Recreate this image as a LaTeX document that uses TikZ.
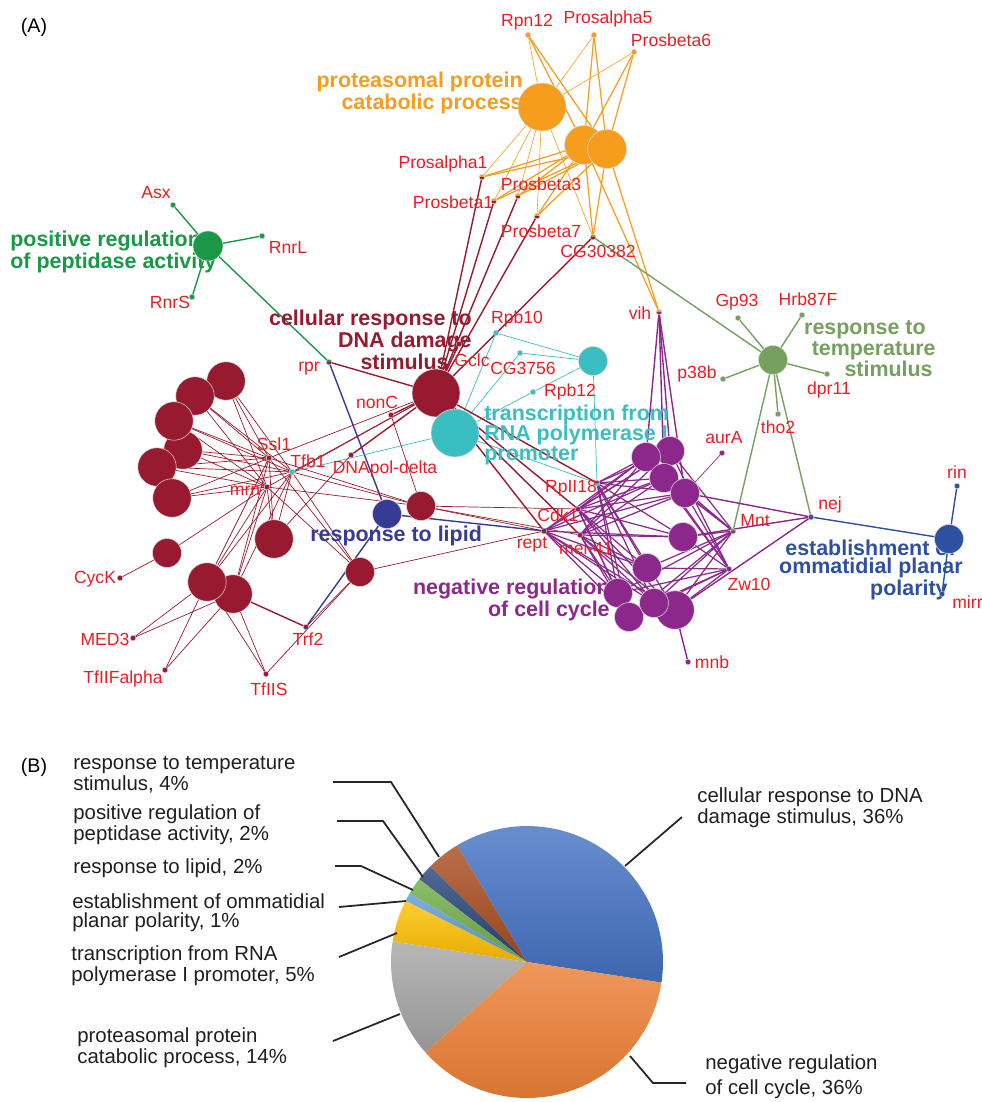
\documentclass[tikz,border=0pt]{standalone}
\usepackage{fontspec}
\setmainfont{Liberation Sans}
\usetikzlibrary{backgrounds}
\definecolor{dnared}{RGB}{152,26,48}
\definecolor{orng}{RGB}{246,157,30}
\definecolor{pgreen}{RGB}{26,152,72}
\definecolor{tgreen}{RGB}{118,160,94}
\definecolor{cyanc}{RGB}{58,190,193}
\definecolor{purp}{RGB}{140,40,140}
\definecolor{lipblue}{RGB}{52,60,150}
\definecolor{obl}{RGB}{45,80,160}
\definecolor{genered}{RGB}{237,28,36}
\definecolor{pieblue}{RGB}{68,114,196}
\definecolor{pieorange}{RGB}{237,125,49}
\definecolor{piegray}{RGB}{165,165,165}
\definecolor{pieyellow}{RGB}{255,192,0}
\definecolor{pielblue}{RGB}{91,155,213}
\definecolor{piegreen}{RGB}{112,173,71}
\definecolor{piedblue}{RGB}{38,68,120}
\definecolor{piebrown}{RGB}{168,75,30}
\tikzset{
  term/.style={circle,draw=white!70!gray,line width=0.3pt,inner sep=0pt},
  tbig/.style={term,minimum size=9.6mm},
  tmid/.style={term,minimum size=7.7mm},
  tsml/.style={term,minimum size=5.8mm},
  gene/.style={circle,inner sep=0pt,minimum size=1.1mm,draw=white!65!gray,line width=0.2pt,fill=#1},
  gene2/.style 2 args={gene=#1,path picture={\fill[#2] (path picture bounding box.west) rectangle (path picture bounding box.south east);}},
  glab/.style={text=genered,font=\fontsize{10}{11}\selectfont,inner sep=0pt},
  tlab/.style={inner sep=0pt,font=\fontsize{12.2}{#1}\selectfont\bfseries},
  tlab/.default=10.4,
  plab/.style={text=black!88,inner sep=0pt,anchor=west,align=left,font=\fontsize{11.6}{#1}\selectfont},
  plab/.default=10.8,
  thk/.style={line width=0.8pt},
  lead/.style={draw=black!85,line width=1pt}
}

\begin{document}
\begin{tikzpicture}[x=0.02cm,y=-0.02cm]
\useasboundingbox (0,0) rectangle (981,1102);
\node[font=\fontsize{11.2}{12}\selectfont,inner sep=0pt] (pa) at (34,27) {(A)};
\node[font=\fontsize{11.2}{12}\selectfont,inner sep=0pt] (pb) at (34,767) {(B)};

% term labels, under the circles
\node[tlab,text=orng,align=right,anchor=east] (lprot) at (523,93) {proteasomal protein\\catabolic process};
\node[tlab=11,text=pgreen,align=left,anchor=west] (lpept) at (10,252) {positive regulation\\of peptidase activity};
\node[tlab,text=dnared,align=right,anchor=east] (ldna) at (472,340) {cellular response to\\DNA damage\hspace*{3.8mm}\\stimulus\hspace*{4.6mm}};
\node[tlab=11.6,text=cyanc,align=left,anchor=west] (ltrans) at (484,435) {transcription from\\RNA polymerase I\\promoter};
\node[tlab=9.1,text=tgreen,align=right,anchor=east] (ltemp) at (936,349) {response to\hspace*{2mm}\\temperature\\stimulus\hspace*{0.6mm}};
\node[tlab,text=lipblue,anchor=west] (llip) at (310,536) {response to lipid};
\node[tlab=11,text=purp,align=right,anchor=east] (lneg) at (610,600) {negative regulation\\of cell cycle};
\node[tlab=10.6,text=obl,align=right,anchor=east] (lomma) at (963,570) {establishment of\hspace*{1.4mm}\\ommatidial planar\\polarity\hspace*{3mm}};

% term circles
\node[tbig,fill=orng] (prot1) at (542,107) {};
\node[term,minimum size=7.8mm,fill=orng] (prot2) at (584,145) {};
\node[term,minimum size=7.8mm,fill=orng] (prot3) at (607,149) {};
\node[term,minimum size=6mm,fill=pgreen] (pept) at (208,246) {};
\node[tbig,fill=dnared] (dna) at (436,393) {};
\node[tbig,fill=cyanc] (trans) at (455,433) {};
\node[tsml,fill=cyanc] (trans2) at (593,361) {};
\node[tmid,fill=dnared] (dl1) at (226,381) {};
\node[tmid,fill=dnared] (dl2) at (195,396) {};
\node[tmid,fill=dnared] (dl4) at (183,450) {};
\node[tmid,fill=dnared] (dl3) at (174,421) {};
\node[tmid,fill=dnared] (dl5) at (157,467) {};
\node[tmid,fill=dnared] (dl6) at (172,498) {};
\node[tmid,fill=dnared] (dl7) at (274,539) {};
\node[tsml,fill=dnared] (dl8) at (167,553) {};
\node[tmid,fill=dnared] (dl10) at (233,594) {};
\node[tmid,fill=dnared] (dl9) at (207,582) {};
\node[tsml,fill=dnared] (dl11) at (421,506) {};
\node[tsml,fill=dnared] (dl12) at (360,572) {};
\node[tsml,fill=lipblue] (lipid) at (387,514) {};
\node[tsml,fill=tgreen] (temp) at (773,360) {};
\node[tsml,fill=obl] (omma) at (949,539) {};
\node[tsml,fill=purp] (pc2) at (670,451) {};
\node[tsml,fill=purp] (pc1) at (646,457) {};
\node[tsml,fill=purp] (pc3) at (664,478) {};
\node[tsml,fill=purp] (pc4) at (685,493) {};
\node[tsml,fill=purp] (pc5) at (683,537) {};
\node[tsml,fill=purp] (pc6) at (647,568) {};
\node[tmid,fill=purp] (pc9) at (675,610) {};
\node[tsml,fill=purp] (pc7) at (618,593) {};
\node[tsml,fill=purp] (pc10) at (629,617) {};
\node[tsml,fill=purp] (pc8) at (654,603) {};

% genes
\node[gene=orng] (rpn12) at (528,35) {};
\node[gene=orng] (pa5) at (594,35) {};
\node[gene=orng] (pb6) at (634,52) {};
\node[gene2={orng}{dnared}] (pa1) at (482,177) {};
\node[gene2={orng}{dnared}] (pb1) at (494,201) {};
\node[gene2={orng}{dnared}] (pb3) at (518,196) {};
\node[gene2={orng}{dnared}] (pb7) at (537,216) {};
\node[gene2={tgreen}{dnared}] (cg30382) at (593,237) {};
\node[gene2={orng}{purp}] (vih) at (659,312) {};
\node[gene=pgreen] (asx) at (173,205) {};
\node[gene=pgreen] (rnrl) at (262,236) {};
\node[gene=pgreen] (rnrs) at (192,297) {};
\node[gene2={pgreen}{dnared}] (rpr) at (329,362) {};
\node[gene=tgreen] (gp93) at (738,318) {};
\node[gene=tgreen] (hrb87f) at (802,315) {};
\node[gene=tgreen] (p38b) at (723,379) {};
\node[gene=tgreen] (dpr11) at (827,374) {};
\node[gene=tgreen] (tho2) at (778,414) {};
\node[gene2={tgreen}{purp}] (mnt) at (733,531) {};
\node[gene2={purp}{obl}] (nej) at (811,517) {};
\node[gene=obl] (rin) at (957,486) {};
\node[gene=obl] (mirr) at (942,594) {};
\node[gene=cyanc] (rpb10) at (496,333) {};
\node[gene=cyanc] (cg3756) at (520,353) {};
\node[gene=cyanc] (rpb12) at (533,392) {};
\node[gene=cyanc] (tfb1) at (292,472) {};
\node[gene2={purp}{cyanc}] (rpii18) at (597,483) {};
\node[gene2={purp}{dnared}] (cdk1) at (578,509) {};
\node[gene2={lipblue}{dnared}] (rept) at (544,531) {};
\node[gene2={purp}{dnared}] (mei41) at (580,535) {};
\node[gene=purp] (aura) at (722,453) {};
\node[gene=purp] (zw10) at (729,569) {};
\node[gene=purp] (mnb) at (688,662) {};
\node[gene=dnared] (nonc) at (391,415) {};
\node[gene=dnared] (ssl1) at (269,458) {};
\node[gene=dnared] (mrn) at (267,487) {};
\node[gene=dnared] (dnapol) at (351,455) {};
\node[gene=dnared] (gclc) at (459,344) {};
\node[gene=dnared] (cyck) at (120,578) {};
\node[gene=dnared] (med3) at (133,638) {};
\node[gene=dnared] (tf2f) at (165,670) {};
\node[gene=dnared] (tf2s) at (266,674) {};
\node[gene2={dnared}{lipblue}] (trf2) at (306,627) {};

% gene labels
\node[glab] (lrpn12) at (527,22) {Rpn12};
\node[glab] (lpa5) at (608,19) {Prosalpha5};
\node[glab] (lpb6) at (671,40) {Prosbeta6};
\node[glab] (lpa1) at (443,164) {Prosalpha1};
\node[glab] (lpb3) at (541,184) {Prosbeta3};
\node[glab] (lpb1) at (453,202) {Prosbeta1};
\node[glab] (lpb7) at (541,231) {Prosbeta7};
\node[glab] (lcg30382) at (598,251) {CG30382};
\node[glab] (lvih) at (640,313) {vih};
\node[glab] (lasx) at (156,193) {Asx};
\node[glab] (lrnrl) at (288,247) {RnrL};
\node[glab] (lrnrs) at (170,302) {RnrS};
\node[glab] (lrpr) at (309,369) {rpr};
\node[glab] (lgp93) at (737,302) {Gp93};
\node[glab] (lhrb87f) at (808,299) {Hrb87F};
\node[glab] (lp38b) at (697,374) {p38b};
\node[glab] (ldpr11) at (829,390) {dpr11};
\node[glab] (ltho2) at (778,427) {tho2};
\node[glab] (laura) at (724,438) {aurA};
\node[glab] (lmnt) at (755,521) {Mnt};
\node[glab] (lzw10) at (749,584) {Zw10};
\node[glab] (lmnb) at (712,662) {mnb};
\node[glab] (lnej) at (830,505) {nej};
\node[glab] (lrin) at (957,472) {rin};
\node[glab,anchor=west] (lmirr) at (952,602) {mirr};
\node[glab] (lrpb10) at (517,319) {Rpb10};
\node[glab] (lcg3756) at (523,368) {CG3756};
\node[glab] (lrpb12) at (570,392) {Rpb12};
\node[glab] (lrpii18) at (571,488) {RpII18};
\node[glab] (lcdk1) at (558,515) {Cdk1};
\node[glab] (lrept) at (532,545) {rept};
\node[glab] (lmei41) at (586,548) {mei-41};
\node[glab] (lnonc) at (377,402) {nonC};
\node[glab] (lssl1) at (274,444) {Ssl1};
\node[glab] (ltfb1) at (308,461) {Tfb1};
\node[glab] (lmrn) at (245,491) {mrn};
\node[glab] (ldnapol) at (385,469) {DNApol-delta};
\node[glab] (lgclc) at (472,360) {Gclc};
\node[glab] (lcyck) at (95,579) {CycK};
\node[glab] (lmed3) at (105,639) {MED3};
\node[glab] (ltf2f) at (123,679) {TfIIFalpha};
\node[glab] (ltf2s) at (269,689) {TfIIS};
\node[glab] (ltrf2) at (308,639) {Trf2};

% links
\begin{scope}[on background layer,line width=0.45pt]
  \foreach \gn in {rpn12,pa5,pb6,pa1,pb1,pb3,pb7,cg30382}
    \draw[orng,line width=0.35pt] (prot1) -- (\gn);
  \foreach \tm in {prot2,prot3}
    \foreach \gn in {rpn12,pa5,pb6,pa1,pb1,pb3,pb7,cg30382,vih}
      \draw[orng,line width=0.7pt] (\tm) -- (\gn);
  \foreach \gn in {asx,rnrl,rnrs,rpr}
    \draw[pgreen,thk] (pept) -- (\gn);
  \foreach \gn in {gp93,hrb87f,p38b,dpr11,tho2,cg30382,mnt,nej}
    \draw[tgreen,thk] (temp) -- (\gn);
  \foreach \gn in {rin,mirr,nej}
    \draw[obl,thk] (omma) -- (\gn);
  \foreach \gn in {rpr,trf2,rept}
    \draw[lipblue,thk] (lipid) -- (\gn);
  \foreach \gn in {tfb1,rpb10,cg3756,rpb12,rpii18}
    \draw[cyanc] (trans) -- (\gn);
  \foreach \gn in {rpb10,cg3756,rpb12,rpii18}
    \draw[cyanc] (trans2) -- (\gn);
  % dna damage
  \foreach \gn in {pa1,pb1,pb3,pb7,cg30382,gclc,rpr,nonc,dnapol,rpii18,cdk1,rept,mei41}
    \draw[dnared,thk] (dna) -- (\gn);
  \foreach \tm in {dl1,dl2,dl3,dl4,dl5,dl6,dl7,dl9,dl10,dl11,dl12,dna}
    \foreach \gn in {ssl1,tfb1,mrn}
      \draw[dnared] (\tm) -- (\gn);
  \draw[dnared] (dl7) -- (dnapol);
  \draw[dnared] (dl8) -- (cyck);
  \draw[dnared] (dl8) -- (mrn);
  \foreach \tm in {dl9,dl10}
    \foreach \gn in {med3,tf2f,tf2s}
      \draw[dnared] (\tm) -- (\gn);
  \draw[dnared,thk] (dl10) -- (trf2);
  \foreach \gn in {nonc,cdk1,rept,mei41}
    \draw[dnared] (dl11) -- (\gn);
  \foreach \gn in {tf2s,trf2,rept}
    \draw[dnared] (dl12) -- (\gn);
  % cell cycle
  \foreach \tm in {pc1,pc2,pc3,pc4,pc5,pc6,pc7,pc8,pc9,pc10}
    \foreach \gn in {rpii18,cdk1,rept,mei41,mnt,zw10}
      \draw[purp,line width=0.7pt] (\tm) -- (\gn);
  \foreach \tm in {pc1,pc2,pc3,pc4}
    \draw[purp,thk] (vih) -- (\tm);
  \draw[purp] (pc4) -- (aura);
  \draw[purp,thk] (pc9) -- (mnb);
  \foreach \tm in {pc4,pc5,pc9}
    \draw[purp,thk] (\tm) -- (nej);
\end{scope}

% pie chart
\coordinate (pie) at (527,962);
\foreach \a/\b/\c in {-8.7/120.9/pieblue,120.9/135.3/piebrown,135.3/142.5/piedblue,142.5/149.7/piegreen,149.7/153.3/pielblue,153.3/171.3/pieyellow,171.3/221.7/piegray,221.7/351.3/pieorange}
  \shade[top color=\c!80!white,bottom color=\c!90!black] (pie) -- ++(\a:2.72cm) arc[start angle=\a,end angle=\b,radius=2.72cm] -- cycle;

\node[plab] (ptemp) at (73,775) {response to temperature\\stimulus, 4\%};
\node[plab] (ppept) at (73,825) {positive regulation of\\peptidase activity, 2\%};
\node[plab] (plip) at (73,868) {response to lipid, 2\%};
\node[plab] (pomma) at (72,913) {establishment of ommatidial\\planar polarity, 1\%};
\node[plab] (ptrans) at (71,966) {transcription from RNA\\polymerase I promoter, 5\%};
\node[plab] (pprot) at (77,1048) {proteasomal protein\\catabolic process, 14\%};
\node[plab] (pdna) at (697,808) {cellular response to DNA\\damage stimulus, 36\%};
\node[plab=14.2] (pneg) at (705,1077) {negative regulation\\of cell cycle, 36\%};

\coordinate (k1a) at (333,782); \coordinate (k1b) at (439,857);
\coordinate (k2a) at (337,821); \coordinate (k2b) at (423,877);
\coordinate (k3a) at (335,866); \coordinate (k3b) at (413,890);
\coordinate (k4a) at (339,907); \coordinate (k4b) at (406,901);
\coordinate (k5a) at (339,957); \coordinate (k5b) at (397,933);
\coordinate (k6a) at (333,1041); \coordinate (k6b) at (400,1014);
\coordinate (k7a) at (682,817); \coordinate (k7b) at (625,866);
\coordinate (k8a) at (686,1083); \coordinate (k8b) at (630,1056);
\draw[lead] (k1a) -- ++(58,0) -- (k1b);
\draw[lead] (k2a) -- ++(46,0) -- (k2b);
\draw[lead] (k3a) -- ++(26,0) -- (k3b);
\draw[lead] (k4a) -- (k4b);
\draw[lead] (k5a) -- (k5b);
\draw[lead] (k6a) -- (k6b);
\draw[lead] (k7a) -- (k7b);
\draw[lead] (k8a) -- ++(-33,0) -- (k8b);
\end{tikzpicture}
\end{document}
